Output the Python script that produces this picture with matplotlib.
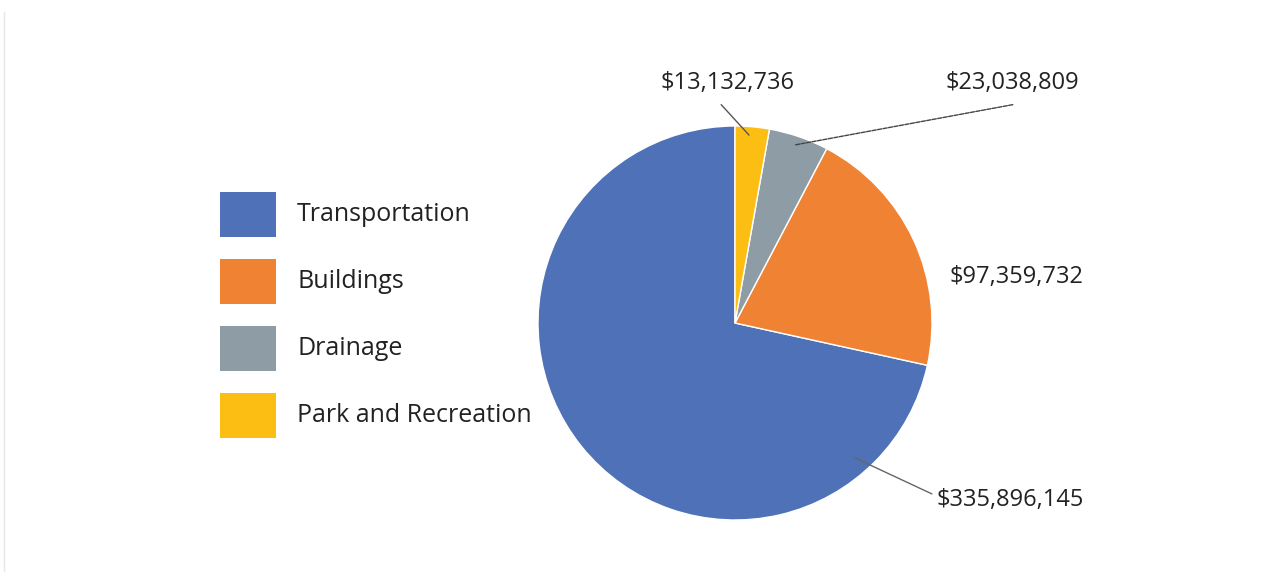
import matplotlib.pyplot as plt
from matplotlib.lines import Line2D
from matplotlib.patches import Rectangle

# capital budget by category
categories = ['Transportation', 'Buildings', 'Drainage', 'Park and Recreation']
amounts = [335896145, 97359732, 23038809, 13132736]
colors = ['#4E71B8', '#F08333', '#8E9DA5', '#FDBE14']

plt.rcParams['font.family'] = ['Open Sans', 'DejaVu Sans']

W, H = 1282, 572
fig = plt.figure(figsize=(W / 100, H / 100), dpi=100)

# square axes so the unit pie is 197 px across its radius
cx, cy, r = 735, 323, 197
ax = fig.add_axes([(cx - r) / W, (H - cy - r) / H, 2 * r / W, 2 * r / H])
wedges, _ = ax.pie(amounts, colors=colors, startangle=90, counterclock=True,
                   radius=1, wedgeprops=dict(edgecolor='white', linewidth=1))
ax.set_xlim(-1, 1)
ax.set_ylim(-1, 1)
ax.axis('off')

def money(v):
    return '${:,}'.format(v)

txt = dict(fontsize=17, color='#222222', ha='center', va='center', annotation_clip=False)

# Transportation
ax.annotate(money(amounts[0]), xy=(0.609, -0.685), xytext=(1.396, -0.898),
            arrowprops=dict(arrowstyle='-', color='#666666', lw=1,
                            shrinkA=0, shrinkB=0, relpos=(-0.03, 0.75)), **txt)
# Buildings
ax.annotate(money(amounts[1]), xy=(1.431, 0.234), xytext=(1.431, 0.234), **txt)
# Drainage
ax.annotate(money(amounts[2]), xy=(0.305, 0.904), xytext=(1.41, 1.218),
            arrowprops=dict(arrowstyle='-', color='#444444', lw=1, ls=(0, (3, 1)),
                            shrinkA=0, shrinkB=0, relpos=(0.5, -0.4)), **txt)
# Park and Recreation
ax.annotate(money(amounts[3]), xy=(0.071, 0.954), xytext=(-0.036, 1.218),
            arrowprops=dict(arrowstyle='-', color='#555555', lw=1,
                            shrinkA=0, shrinkB=0, relpos=(0.45, -0.4)), **txt)

# legend: colour squares with the category names
top, pitch, bw, bh = 192, 67, 56, 45
for i, (name, c) in enumerate(zip(categories, colors)):
    y0 = top + i * pitch
    fig.add_artist(Rectangle((220 / W, 1 - (y0 + bh) / H), bw / W, bh / H,
                             transform=fig.transFigure, facecolor=c, edgecolor='none'))
    fig.text(297 / W, 1 - (y0 + bh / 2) / H, name, fontsize=18, color='#222222',
             ha='left', va='center')

# faint frame edge on the left
fig.add_artist(Line2D([4 / W, 4 / W], [0, 1 - 12 / H], transform=fig.transFigure,
                      color='#e6e6e6', lw=1))

fig.savefig('out.png', dpi=100)
